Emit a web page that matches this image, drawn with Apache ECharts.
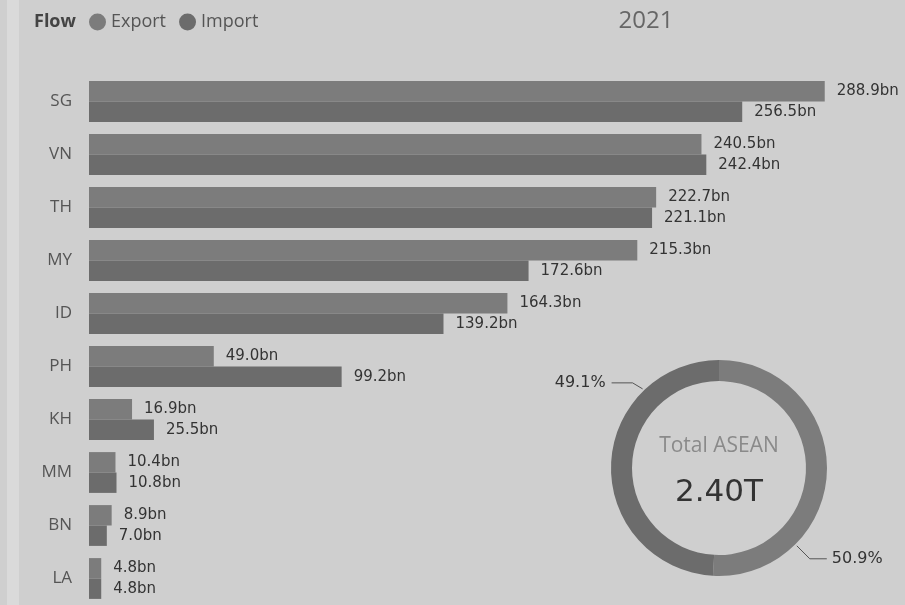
<!DOCTYPE html>
<html><head><meta charset="utf-8">
<script src="https://cdn.jsdelivr.net/npm/echarts@6/dist/echarts.min.js"></script>
<style>html,body{margin:0;padding:0;background:#cfcfcf;}#c{width:905px;height:605px;}</style>
</head><body><div id="c"></div>
<script>
const categories = ['SG','VN','TH','MY','ID','PH','KH','MM','BN','LA'];
const exportValues = [288.9,240.5,222.7,215.3,164.3,49.0,16.9,10.4,8.9,4.8];
const importValues = [256.5,242.4,221.1,172.6,139.2,99.2,25.5,10.8,7.0,4.8];
const seriesNames = ['Export','Import'];
const yearLabel = '2021';
const legendTitle = 'Flow';
const centerLabel = 'Total ASEAN';

const sum = a => a.reduce((s,v)=>s+v,0);
const totalExport = sum(exportValues), totalImport = sum(importValues);
const total = totalExport + totalImport;
const cx = 719, cy = 468, rOut = 108, rIn = 87;
const colExport = '#7c7c7c', colImport = '#6c6c6c';
const numFont = 'DejaVu Sans';

const chart = echarts.init(document.getElementById('c'));
function ringPt(deg, r){ const a = deg*Math.PI/180; return [cx + r*Math.sin(a), cy - r*Math.cos(a)]; }

chart.setOption({
  backgroundColor: '#cfcfcf',
  animation: false,
  title: [
    {text: legendTitle, left: 29, top: 8, textStyle:{fontFamily:'Open Sans', fontSize:18, fontWeight:'bold', color:'#444'}},
    {text: yearLabel, left: 641, top: 4, textAlign:'center', textStyle:{fontFamily:'Open Sans', fontSize:24, fontWeight:'normal', color:'#666'}}
  ],
  legend: {
    left: 84, top: 8, icon: 'circle', itemWidth: 17, itemHeight: 17, itemGap: 13,
    data: seriesNames.map((n,i)=>({name:n, itemStyle:{color: i? colImport: colExport}})),
    textStyle: {fontFamily:'Open Sans', fontSize:18, color:'#555', padding:[0,0,0,0]}
  },
  graphic: [
    {type:'rect', left:7, top:0, shape:{width:12, height:605}, style:{fill:'#dadada'}, z:-1},
    {type:'text', x: cx, y: 446, style:{text: centerLabel, fontFamily:'Open Sans', fontSize:21, fill:'#8a8a8a', align:'center', verticalAlign:'middle'}},
    {type:'text', x: cx, y: 493, style:{text: (total/1000).toFixed(2)+'T', fontFamily:numFont, fontSize:31, fill:'#333', align:'center', verticalAlign:'middle'}}
  ],
  grid: {left: 89, top: 75, width: 764, height: 534, containLabel: false},
  xAxis: {type:'value', min:0, max:300, show:false},
  yAxis: {type:'category', data: categories, inverse: true,
    axisLine:{show:false}, axisTick:{show:false},
    axisLabel:{margin:17, fontFamily:'Open Sans', fontSize:17, color:'#555'}},
  series: [
    {name: seriesNames[0], type:'bar', data: exportValues, barGap:'0%', barCategoryGap:'23%',
     itemStyle:{color: colExport},
     label:{show:true, position:'right', distance:12, fontFamily:numFont, fontSize:15, color:'#333',
       formatter: p => p.value.toFixed(1)+'bn'}},
    {name: seriesNames[1], type:'bar', data: importValues, barGap:'0%', barCategoryGap:'23%',
     itemStyle:{color: colImport},
     label:{show:true, position:'right', distance:12, fontFamily:numFont, fontSize:15, color:'#333',
       formatter: p => p.value.toFixed(1)+'bn'}},
    {type:'pie', center:[cx,cy], radius:[rIn,rOut], startAngle:90, clockwise:true,
     data:[{name:seriesNames[0], value: totalExport, itemStyle:{color: colExport}},
           {name:seriesNames[1], value: totalImport, itemStyle:{color: colImport}}],
     label:{show:true, overflow:'none', fontFamily:numFont, fontSize:16, color:'#333',
       formatter: p => (p.value/total*100).toFixed(1)+'%'},
     labelLine:{show:true, lineStyle:{color:'#555', width:1}},
     labelLayout: function(p){
       if (p.dataIndex === 0){
         const a = ringPt(135, rOut+2);
         return {x: a[0]+35, y: a[1]+13, align:'left', verticalAlign:'middle',
           labelLinePoints:[a, [a[0]+13, a[1]+13], [a[0]+30, a[1]+13]]};
       } else {
         const a = ringPt(316, rOut+2);
         return {x: a[0]-37, y: a[1]-6, align:'right', verticalAlign:'middle',
           labelLinePoints:[a, [a[0]-10, a[1]-6], [a[0]-31, a[1]-6]]};
       }
     }
    }
  ]
});
</script></body></html>
